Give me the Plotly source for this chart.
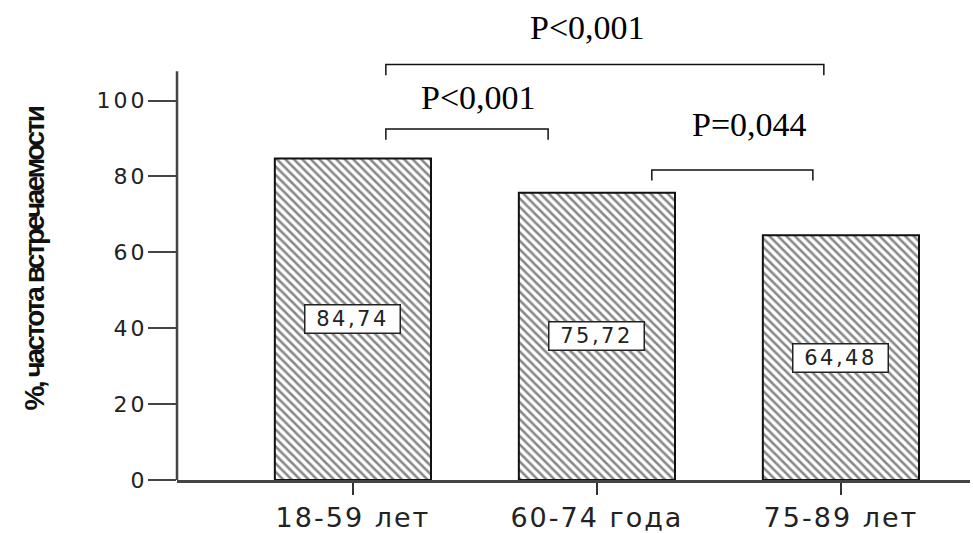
import plotly.graph_objects as go

categories = ["18-59 лет", "60-74 года", "75-89 лет"]
values = [84.74, 75.72, 64.48]
value_labels = ["84,74", "75,72", "64,48"]
y_ticks = [0, 20, 40, 60, 80, 100]

# significance brackets
bracket_left = [0.135, 0.135, 1.225]
bracket_right = [1.93, 0.80, 1.885]
bracket_y = [109.5, 92.5, 81.7]
bracket_drop = [2.8, 2.8, 2.8]
p_labels = ["P<0,001", "P<0,001", "P=0,044"]
p_label_x = [0.963, 0.516, 1.627]
p_label_y = [119.3, 100.8, 93.6]

W, H = 973, 533
L, R, T, B = 177, 3, 0, 41
y_max = 126.5
axis_top = 107.7


def spaced(s, px):
    return f'<span style="letter-spacing:{px}px">{s}</span>'


fig = go.Figure()
fig.add_trace(go.Bar(
    x=list(range(len(categories))),
    y=values,
    width=0.64,
    marker=dict(
        color="white",
        line=dict(color="#111111", width=2),
        pattern=dict(shape="\\", size=6, solidity=0.42, fgcolor="#111111", bgcolor="white"),
    ),
    hoverinfo="skip",
))

shapes = []
shapes.append(dict(type="line", xref="paper", yref="y", x0=0, x1=0, y0=0, y1=axis_top,
                   line=dict(color="#444444", width=2.5)))
for xl, xr, yl, d in zip(bracket_left, bracket_right, bracket_y, bracket_drop):
    shapes.append(dict(type="path", xref="x", yref="y",
                       path=f"M {xl} {yl - d} L {xl} {yl} L {xr} {yl} L {xr} {yl - d}",
                       line=dict(color="#111111", width=1.5)))

annotations = []
for i, (v, lab) in enumerate(zip(values, value_labels)):
    annotations.append(dict(x=i, y=v / 2, xref="x", yref="y", text=spaced(lab, 2.5), showarrow=False,
                            font=dict(family="DejaVu Sans", size=21, color="#222222"),
                            bgcolor="white", bordercolor="#222222", borderwidth=1.5,
                            width=92, height=25, borderpad=1))
for lab, px, py in zip(p_labels, p_label_x, p_label_y):
    annotations.append(dict(x=px, y=py, xref="x", yref="y", text=lab, showarrow=False,
                            font=dict(family="Liberation Serif", size=34, color="#000000")))
annotations.append(dict(x=(35 - L) / (W - L - R), y=(H - B - 265) / (H - B - T),
                        xref="paper", yref="paper",
                        text=spaced("%, частота встречаемости", -2.5),
                        textangle=-90, showarrow=False, xanchor="center", yanchor="middle",
                        font=dict(family="Liberation Sans Narrow, Arial Narrow, sans-serif",
                                  size=28, color="#111111", weight="bold")))

fig.update_layout(
    width=W, height=H,
    margin=dict(l=L, r=R, t=T, b=B),
    paper_bgcolor="white", plot_bgcolor="white",
    showlegend=False,
    shapes=shapes,
    annotations=annotations,
    xaxis=dict(
        range=[-0.721, 2.529],
        tickmode="array", tickvals=list(range(len(categories))),
        ticktext=[spaced(c, 2) for c in categories],
        showline=True, linecolor="#444444", linewidth=2.5,
        ticks="outside", ticklen=12, tickwidth=2, tickcolor="#333333",
        showgrid=False, zeroline=False,
        tickfont=dict(family="DejaVu Sans", size=27, color="#222222"),
        fixedrange=True,
    ),
    yaxis=dict(
        range=[0, y_max],
        tickmode="array", tickvals=y_ticks,
        ticktext=[spaced(str(t), 3) for t in y_ticks],
        showline=False,
        ticks="outside", ticklen=28, tickwidth=2, tickcolor="#444444",
        showgrid=False, zeroline=False,
        tickfont=dict(family="DejaVu Sans", size=22, color="#222222"),
        ticklabelstandoff=-4,
        fixedrange=True,
    ),
)

fig.write_html("out.html")
